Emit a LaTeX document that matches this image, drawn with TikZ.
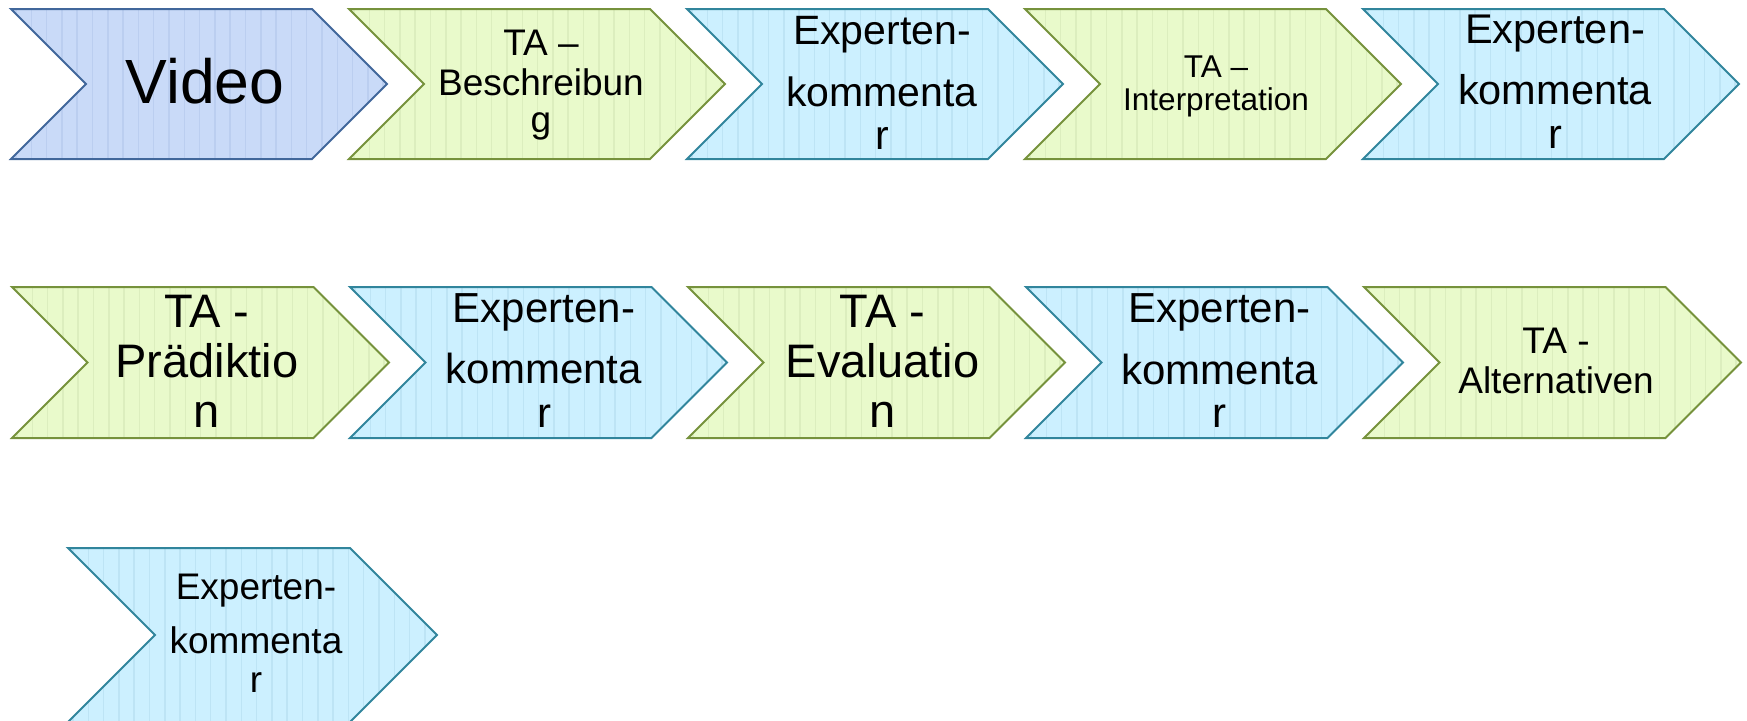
\documentclass[tikz,border=0pt]{standalone}
\usepackage{fontspec}
\setmainfont{Liberation Sans}

\definecolor{blueFill}{HTML}{C9DAF8}
\definecolor{blueStripe}{HTML}{BBCEF0}
\definecolor{blueLine}{HTML}{41679B}
\definecolor{greenFill}{HTML}{E9FACB}
\definecolor{greenStripe}{HTML}{DCEEBE}
\definecolor{greenLine}{HTML}{76923C}
\definecolor{cyanFill}{HTML}{CCF0FF}
\definecolor{cyanStripe}{HTML}{BDE4F5}
\definecolor{cyanLine}{HTML}{31859C}

\tikzset{
  txt/.style={anchor=base, inner sep=0pt, text=black},
  chevbody/.style n args={3}{fill=#1, draw=#2, line width=2pt, line join=miter,
    path picture={
      \foreach \i in {0,...,26}{
        \draw[#3, line width=1.5pt]
          ([xshift={5pt+\i*15.3pt}]path picture bounding box.north west) --
          ([xshift={5pt+\i*15.3pt}]path picture bounding box.south west);
      }
    }},
  bluechev/.style={chevbody={blueFill}{blueLine}{blueStripe}},
  greenchev/.style={chevbody={greenFill}{greenLine}{greenStripe}},
  cyanchev/.style={chevbody={cyanFill}{cyanLine}{cyanStripe}},
}

% chevron: style, left x, top y, width, height
\newcommand\chevron[5]{%
  \pgfmathsetmacro\dd{#5/2}%
  \path[#1] (#2,#3) -- ++({#4-\dd},0) -- ++(\dd,\dd) -- ++(-\dd,\dd)
    -- ++({-(#4-\dd)},0) -- ++(\dd,-\dd) -- cycle;%
}
% one text line: name, centre x, baseline y, size, text
\newcommand\tline[5]{%
  \node[txt, font=\fontsize{#4}{#4}\selectfont] (#1) at (#2,#3) {#5};%
}

\begin{document}
\begin{tikzpicture}[x=1pt, y=-1pt]
\useasboundingbox (0,0) rectangle (1747,720);

% first row
\chevron{bluechev}{11}{9}{376}{150}
\chevron{greenchev}{349}{9}{376}{150}
\chevron{cyanchev}{687}{9}{376}{150}
\chevron{greenchev}{1025}{9}{376}{150}
\chevron{cyanchev}{1363}{9}{376}{150}

% second row
\chevron{greenchev}{12}{287}{377}{151}
\chevron{cyanchev}{350}{287}{377}{151}
\chevron{greenchev}{688}{287}{377}{151}
\chevron{cyanchev}{1026}{287}{377}{151}
\chevron{greenchev}{1364}{287}{377}{151}

% third row
\chevron{cyanchev}{68}{548}{369}{174}

% labels, first row
\tline{video}{205}{103}{62.5}{Video}

\tline{besA}{541}{55}{37}{TA –}
\tline{besB}{541}{95}{37}{Beschreibun}
\tline{besC}{541}{132}{37}{g}

\tline{ekA1}{882}{44}{41}{Experten-}
\tline{ekB1}{882}{106}{41}{kommenta}
\tline{ekC1}{882}{149}{41}{r}

\tline{intA}{1216}{77}{31.5}{TA –}
\tline{intB}{1216}{110}{31.5}{Interpretation}

\tline{ekA2}{1555}{43}{41.5}{Experten-}
\tline{ekB2}{1555}{104}{41.5}{kommenta}
\tline{ekC2}{1555}{148}{41.5}{r}

% labels, second row
\tline{praA}{207}{327}{47}{TA -}
\tline{praB}{207}{377}{47}{Prädiktio}
\tline{praC}{207}{427}{47}{n}

\tline{ekA3}{544}{322}{42}{Experten-}
\tline{ekB3}{544}{383}{42}{kommenta}
\tline{ekC3}{544}{427}{42}{r}

\tline{evaA}{882.5}{327}{47}{TA -}
\tline{evaB}{882.5}{377}{47}{Evaluatio}
\tline{evaC}{882.5}{427}{47}{n}

\tline{ekA4}{1219.5}{322}{42}{Experten-}
\tline{ekB4}{1219.5}{384}{42}{kommenta}
\tline{ekC4}{1219.5}{427}{42}{r}

\tline{altA}{1556}{353}{37}{TA -}
\tline{altB}{1556}{393}{37}{Alternativen}

% label, third row
\tline{ekA5}{256}{599}{37}{Experten-}
\tline{ekB5}{256}{653}{37}{kommenta}
\tline{ekC5}{256}{692}{37}{r}
\end{tikzpicture}
\end{document}
